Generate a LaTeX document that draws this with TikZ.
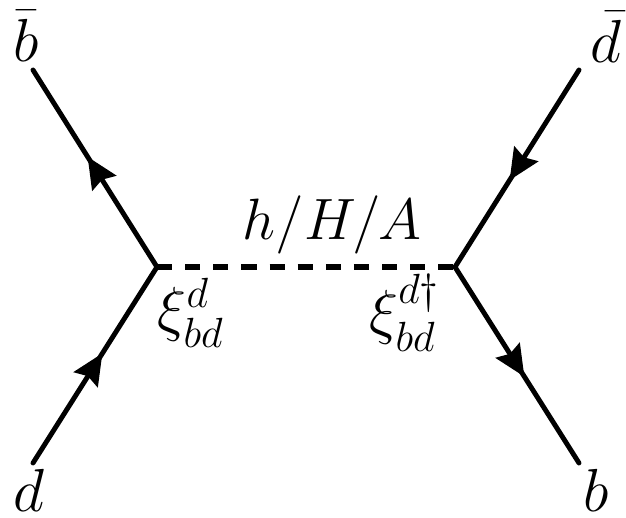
\documentclass[tikz,border=0pt]{standalone}
\usepackage{amsmath,amssymb}
\usetikzlibrary{arrows.meta,decorations.markings}
\begin{document}
\begin{tikzpicture}[
  x=0.01cm,y=-0.01cm,
  fermion/.style={line width=1.4pt,line cap=round,postaction={decorate},decoration={markings,mark=at position 0.56 with {\arrow{Stealth[length=3.1mm,width=2.8mm,inset=0.4mm]}}}},
  higgs/.style={line width=1.6pt,dash pattern=on 4.3pt off 3.7pt},
  lab/.style={font=\fontsize{18}{21}\selectfont,inner sep=0pt}
]
\useasboundingbox (0,0) rectangle (626,518);
\coordinate (vl) at (157,267);
\coordinate (vr) at (455,267);
\coordinate (bbar) at (33,70);
\coordinate (din) at (33,463);
\coordinate (dbar) at (579,70);
\coordinate (bout) at (579,463);
\node[lab] (lbbar) at (26,36) {$\bar b$};
\node[lab] (ldin) at (29,490) {$d$};
\node[lab] (ldbar) at (606,37) {$\bar d$};
\node[lab] (lbout) at (596,490) {$b$};
\node[lab,scale=0.96] (lh) at (332,225) {$h/H/A$};
\node[lab] (lxil) at (191,313) {$\xi_{bd}^{d}$};
\node[lab] (lxir) at (405,313) {$\xi_{bd}^{d\dagger}$};
\draw[fermion] (din) -- (vl);
\draw[fermion] (vl) -- (bbar);
\draw[fermion] (dbar) -- (vr);
\draw[fermion] (vr) -- (bout);
\draw[higgs] (vl) -- (vr);
\end{tikzpicture}
\end{document}
